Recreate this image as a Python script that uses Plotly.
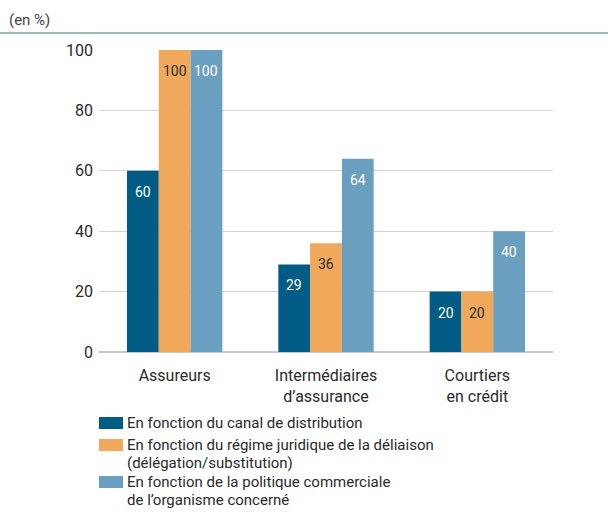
import plotly.graph_objects as go

categories = ["Assureurs", "Intermédiaires<br>d’assurance", "Courtiers<br>en crédit"]
series_names = [
    "En fonction du canal de distribution",
    "En fonction du régime juridique de la déliaison<br>(délégation/substitution)",
    "En fonction de la politique commerciale<br>de l’organisme concerné",
]
canal = [60, 29, 20]
regime = [100, 36, 20]
politique = [100, 64, 40]
y_ticks = [0, 20, 40, 60, 80, 100]

colors = ["#005b85", "#f0a85a", "#6a9fc0"]
label_colors = ["#ffffff", "#2a2a2a", "#ffffff"]
FONT = "Roboto, Arial, sans-serif"
TEXT = "#2a2a2a"

W, H = 608, 512
ML, MR, MT, MB = 99, 55, 50, 160
plot_w, plot_h = W - ML - MR, H - MT - MB
y0_px = H - MB  # pixel row of the zero line


def px_x(px):
    return (px - ML) / plot_w


def px_y(py):
    return (y0_px - py) / plot_h


fig = go.Figure()
series = [canal, regime, politique]
for name, vals, col in zip(series_names, series, colors):
    fig.add_trace(go.Bar(
        x=list(range(len(categories))), y=vals, name=name,
        marker=dict(color=col, line=dict(width=0)),
        hoverinfo="skip", showlegend=False,
    ))

# value labels just under the top of each bar
bar_w = 0.21
for k, (vals, tc) in enumerate(zip(series, label_colors)):
    for i, v in enumerate(vals):
        fig.add_annotation(
            x=i + (k - 1) * bar_w, y=v, text=str(v), showarrow=False,
            yshift=-21, yanchor="middle", xanchor="center",
            font=dict(family=FONT, size=14, color=tc),
        )

# unit label and rule at the top
fig.add_annotation(
    x=px_x(7), y=px_y(20), xref="paper", yref="paper", text="(en %)",
    showarrow=False, xanchor="left", yanchor="middle",
    font=dict(family=FONT, size=15, color="#444444"),
)
fig.add_shape(
    type="line", xref="paper", yref="paper",
    x0=px_x(0), x1=px_x(W), y0=px_y(33), y1=px_y(33),
    line=dict(color="#74a895", width=1.5),
)

# legend: colour swatch followed by the series name, one line per row
item_rows = [423, 445, 482]
line_step = 17.6
for name, col, row in zip(series_names, colors, item_rows):
    fig.add_shape(
        type="rect", xref="paper", yref="paper",
        x0=px_x(99), x1=px_x(123), y0=px_y(row - 6), y1=px_y(row + 6),
        fillcolor=col, line=dict(width=0),
    )
    for j, line in enumerate(name.split("<br>")):
        fig.add_annotation(
            x=px_x(126), y=px_y(row + j * line_step), xref="paper", yref="paper",
            text=line, showarrow=False, xanchor="left", yanchor="middle",
            borderpad=0,
            font=dict(family=FONT, size=15, color=TEXT),
        )

fig.update_layout(
    width=W, height=H,
    margin=dict(l=ML, r=MR, t=MT, b=MB, autoexpand=False),
    paper_bgcolor="white", plot_bgcolor="white",
    barmode="group", bargap=0.37, bargroupgap=0,
    font=dict(family=FONT, size=16, color=TEXT),
    xaxis=dict(
        tickmode="array", tickvals=list(range(len(categories))), ticktext=categories,
        range=[-0.5, 2.5], showgrid=False, zeroline=False, showline=False,
        ticks="", ticklabelstandoff=12,
        tickfont=dict(family=FONT, size=16, color=TEXT),
    ),
    yaxis=dict(
        range=[0, 100], tickvals=y_ticks, showgrid=True, gridcolor="#d3d3d3",
        gridwidth=1, zeroline=True, zerolinecolor="#c8c8c8", zerolinewidth=2,
        showline=False, ticks="", ticklabelstandoff=5,
        tickfont=dict(family=FONT, size=16, color=TEXT),
    ),
    showlegend=False,
)

fig.write_html("out.html")
